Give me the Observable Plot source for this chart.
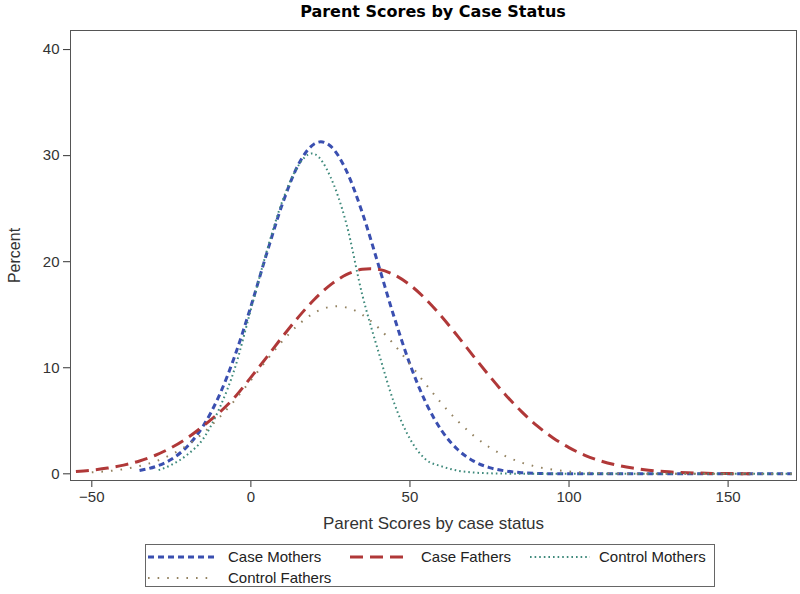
<!DOCTYPE html>
<html>
<head>
<meta charset="utf-8">
<script src="https://cdn.jsdelivr.net/npm/d3@7"></script>
<script src="https://cdn.jsdelivr.net/npm/@observablehq/plot@0.6"></script>
<style>
  body { margin: 0; background: #fff; font-family: "Liberation Sans", Arial, sans-serif; }
  #wrap { position: relative; width: 800px; height: 594px; overflow: hidden; }
  #title { position: absolute; top: 2px; left: 70px; width: 726px; text-align: center;
           font: bold 16px "DejaVu Sans", sans-serif; color: #000; z-index: 2; }
  #chart { position: absolute; top: 0; left: 0; }
  #legend { position: absolute; left: 145px; top: 544px; width: 570px; height: 43px;
            border: 1px solid #666; box-sizing: border-box; font-size: 15px; color: #222; }
  .item { position: absolute; height: 16px; display: flex; align-items: center; }
  .item svg { display: block; }
  .lbl { position: absolute; line-height: 16px; white-space: nowrap; }
</style>
</head>
<body>
<div id="wrap">
  <div id="title"></div>
  <div id="chart"></div>
  <div id="legend"></div>
</div>
<script>
// ---- data ----
const titleText = "Parent Scores by Case Status";
const xLabel = "Parent Scores by case status";
const yLabel = "Percent";
const xTicks = [-50, 0, 50, 100, 150];
const yTicks = [0, 10, 20, 30, 40];
const seriesNames = ["Case Mothers", "Case Fathers", "Control Mothers", "Control Fathers"];

const caseMothersX = [-35,-30,-25,-20,-15,-10,-5,0,5,10,15,20,22,25,30,35,40,45,50,55,60,65,70,75,80,85,90,95,100,110,120,130,140,150,160,170];
const caseMothersY = [0.32,0.68,1.37,2.58,4.51,7.35,11.16,15.78,20.80,25.53,29.20,31.12,31.30,30.91,28.59,24.64,19.79,14.81,10.33,6.71,4.06,2.29,1.20,0.59,0.27,0.11,0.04,0.01,0,0,0,0,0,0,0,0];

const caseFathersX = [-55,-50,-45,-40,-35,-30,-25,-20,-15,-10,-5,0,5,10,15,20,25,30,35,37.5,40,45,50,55,60,65,70,75,80,85,90,95,100,105,110,115,120,125,130,135,140,145,150,155,157];
const caseFathersY = [0.21,0.34,0.54,0.82,1.21,1.75,2.47,3.38,4.50,5.75,7.25,9.10,11.0,12.95,14.80,16.46,17.81,18.78,19.28,19.34,19.28,18.78,17.81,16.46,14.81,12.98,11.08,9.22,7.46,5.89,4.52,3.38,2.47,1.75,1.21,0.82,0.54,0.34,0.21,0.13,0.08,0.04,0.02,0.01,0.01];

const controlMothersX = [-29,-25,-20,-15,-10,-5,0,5,10,15,19,20,25,30,35,40,45,50,55,60,65,70,75,80,90,100,120,140,160,170];
const controlMothersY = [0.35,0.84,1.8,3.3,6.1,10.0,15.5,21.0,25.8,29.1,30.2,30.15,28.0,23.6,16.9,11.6,6.7,3.3,1.35,0.7,0.3,0.12,0.05,0.02,0,0,0,0,0,0];

const controlFathersX = [-50,-45,-40,-35,-30,-25,-20,-15,-10,-5,0,5,10,15,20,25,27,30,35,40,45,50,55,60,65,70,75,80,85,90,95,100,105,110,115,120,130,140,150,160,170];
const controlFathersY = [0.14,0.25,0.44,0.73,1.17,1.82,2.70,3.85,5.29,6.96,8.82,10.73,12.54,14.08,15.19,15.75,15.8,15.69,15.01,13.80,12.19,10.35,8.44,6.61,4.98,3.60,2.50,1.67,1.07,0.66,0.39,0.22,0.12,0.06,0.03,0.01,0,0,0,0,0];

// ---- styles ----
const styles = {
  "Case Mothers":    {stroke: "#3a4fb0", strokeWidth: 3,   dash: "6,4"},
  "Case Fathers":    {stroke: "#b03838", strokeWidth: 3,   dash: "13,7"},
  "Control Mothers": {stroke: "#3f8a7c", strokeWidth: 2,   dash: "1.6,3"},
  "Control Fathers": {stroke: "#938260", strokeWidth: 2,   dash: "1.6,8"}
};

const toRows = (name, xs, ys) => xs.map((x, i) => ({series: name, x, y: ys[i]}));
const seriesData = {
  "Case Mothers": toRows("Case Mothers", caseMothersX, caseMothersY),
  "Case Fathers": toRows("Case Fathers", caseFathersX, caseFathersY),
  "Control Mothers": toRows("Control Mothers", controlMothersX, controlMothersY),
  "Control Fathers": toRows("Control Fathers", controlFathersX, controlFathersY)
};

document.getElementById("title").textContent = titleText;

const lineMarks = seriesNames.map(name => Plot.line(seriesData[name], {
  x: "x", y: "y", curve: "monotone-x",
  stroke: styles[name].stroke, strokeWidth: styles[name].strokeWidth,
  strokeDasharray: styles[name].dash, strokeLinecap: "butt"
}));

const chart = Plot.plot({
  width: 800, height: 540,
  marginTop: 30, marginBottom: 60, marginLeft: 70, marginRight: 4,
  x: {domain: [-56.7, 171.5]},
  y: {domain: [-0.63, 41.8]},
  style: {fontFamily: "'Liberation Sans', Arial, sans-serif", fontSize: "15px", color: "#333", background: "#fff"},
  marks: [
    Plot.axisX({ticks: xTicks, tickSize: 7, tickPadding: 4, label: null, fontSize: 15}),
    Plot.axisX({ticks: [], tickSize: 0, label: xLabel, labelAnchor: "center", labelOffset: 48, labelArrow: "none", fontSize: 17}),
    Plot.axisY({ticks: yTicks, tickSize: 7, tickPadding: 4, label: null, fontSize: 15}),
    Plot.axisY({ticks: [], tickSize: 0, label: yLabel, labelAnchor: "center", labelOffset: 62, labelArrow: "none", fontSize: 16}),
    ...lineMarks,
    Plot.frame({stroke: "#555", strokeWidth: 1})
  ]
});
document.getElementById("chart").appendChild(chart);

// ---- legend ----
const legend = document.getElementById("legend");
const legendLayout = [
  {name: "Case Mothers",    sx: 2,   sw: 66, tx: 82,  row: 0},
  {name: "Case Fathers",    sx: 204, sw: 58, tx: 275, row: 0},
  {name: "Control Mothers", sx: 384, sw: 60, tx: 453, row: 0},
  {name: "Control Fathers", sx: 2,   sw: 62, tx: 82,  row: 1}
];
legendLayout.forEach(d => {
  const st = styles[d.name];
  const top = d.row === 0 ? 4 : 25;
  const item = document.createElement("div");
  item.className = "item";
  item.style.left = d.sx + "px";
  item.style.top = top + "px";
  item.innerHTML = `<svg width="${d.sw}" height="16"><line x1="0" y1="8" x2="${d.sw}" y2="8" stroke="${st.stroke}" stroke-width="${st.strokeWidth}" stroke-dasharray="${st.dash}"/></svg>`;
  legend.appendChild(item);
  const lbl = document.createElement("div");
  lbl.className = "lbl";
  lbl.style.left = d.tx + "px";
  lbl.style.top = top + "px";
  lbl.textContent = d.name;
  legend.appendChild(lbl);
});
</script>
</body>
</html>
